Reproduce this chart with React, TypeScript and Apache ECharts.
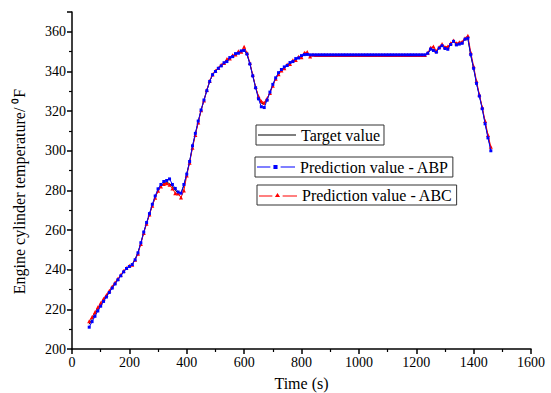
import React, { useEffect, useRef } from "react";
import * as echarts from "echarts";

const times = [
  60, 70, 80, 90, 100, 110, 120, 130, 140, 150, 160, 170, 180, 190, 200, 210, 220, 230, 240, 250,
  260, 270, 280, 290, 300, 310, 320, 330, 340, 350, 360, 370, 380, 390, 400, 410, 420, 430, 440, 450,
  460, 470, 480, 490, 500, 510, 520, 530, 540, 550, 560, 570, 580, 590, 600, 610, 620, 630, 640, 650,
  660, 670, 680, 690, 700, 710, 720, 730, 740, 750, 760, 770, 780, 790, 800, 810, 820, 830, 840, 850,
  860, 870, 880, 890, 900, 910, 920, 930, 940, 950, 960, 970, 980, 990, 1000, 1010, 1020, 1030, 1040, 1050,
  1060, 1070, 1080, 1090, 1100, 1110, 1120, 1130, 1140, 1150, 1160, 1170, 1180, 1190, 1200, 1210, 1220, 1230, 1240, 1250,
  1260, 1270, 1280, 1290, 1300, 1310, 1320, 1330, 1340, 1350, 1360, 1370, 1380, 1390, 1400, 1410, 1420, 1430, 1440, 1450,
  1460,
];

const targetValues = [
  212.5, 215, 217.5, 220, 222.3, 224.5, 226.7, 228.8, 230.9, 233, 235, 237, 239, 240.7, 241.8, 242.8, 245.3, 248.8, 253.5, 258.8,
  263.5, 268, 272.5, 276.5, 280, 282.3, 283.5, 284, 283.5, 282, 280, 278.8, 278.5, 282.5, 288.5, 294.5, 302, 308.5, 314.5, 320.5,
  325.5, 330.5, 335, 338.3, 340.2, 341.6, 343, 344.2, 345.5, 346.8, 347.8, 348.7, 349.5, 350.2, 350.8, 348.5, 344, 338, 332, 327,
  324, 323.5, 326, 329.5, 333.2, 336.5, 339, 340.8, 342, 343.2, 344.2, 345.2, 346.2, 347, 347.7, 348.3, 348.5, 348.3, 348.3, 348.3,
  348.3, 348.3, 348.3, 348.3, 348.3, 348.3, 348.3, 348.3, 348.3, 348.3, 348.3, 348.3, 348.3, 348.3, 348.3, 348.3, 348.3, 348.3, 348.3, 348.3,
  348.3, 348.3, 348.3, 348.3, 348.3, 348.3, 348.3, 348.3, 348.3, 348.3, 348.3, 348.3, 348.3, 348.3, 348.3, 348.3, 348.3, 348.3, 349, 351,
  351.2, 350, 352, 353.2, 352.5, 352, 354, 355, 353.8, 354, 354.5, 356.5, 356.5, 348, 341.5, 334.2, 327.8, 321.5, 314, 307,
  300.8,
];

const abpValues = [
  211, 213.8, 216.5, 219.2, 221.6, 224, 226.2, 228.5, 230.7, 232.8, 234.9, 236.9, 238.9, 240.6, 241.6, 242.6, 245, 248.5, 253.6, 259,
  263.8, 268.3, 273, 277.2, 280.8, 283, 284.5, 285, 285.8, 283, 281, 279.2, 278.6, 283, 288.2, 294.6, 302.5, 308.8, 315, 320.6,
  325.6, 330.3, 335, 338.4, 340, 341.6, 342.8, 344.4, 345, 347, 347.5, 349, 349.2, 350.4, 350.6, 348.8, 343.8, 337.8, 331.8, 326.2,
  322.2, 321.8, 325.5, 329.6, 333.5, 336.8, 339.4, 341, 342.3, 343, 344.5, 345, 346.5, 346.8, 348, 348.5, 348.6, 348.4, 348.4, 348.4,
  348.4, 348.4, 348.4, 348.4, 348.4, 348.4, 348.4, 348.4, 348.4, 348.4, 348.4, 348.4, 348.4, 348.4, 348.4, 348.4, 348.4, 348.4, 348.4, 348.4,
  348.4, 348.4, 348.4, 348.4, 348.4, 348.4, 348.4, 348.4, 348.4, 348.4, 348.4, 348.4, 348.4, 348.4, 348.4, 348.4, 348.4, 348.4, 349.2, 351.3,
  350.6, 349.7, 351.8, 353, 351.6, 351.2, 353.6, 355.2, 353.4, 353.8, 354.2, 356.3, 356.8, 348.5, 341.6, 334, 327.6, 321.2, 313.6, 306.5,
  300,
];

const abcValues = [
  214, 216.2, 218.6, 221, 223.2, 225.3, 227.3, 229.4, 231.5, 233.5, 235.4, 237.3, 239.3, 240.9, 242, 242.5, 245, 248, 253, 258.5,
  263.2, 267.8, 272.3, 276.3, 279.8, 282, 283.2, 283.6, 282.8, 281, 278.6, 278.4, 276.4, 280, 287.5, 294, 301.5, 308, 314.2, 320.4,
  325.3, 330.6, 335.2, 338.5, 340.4, 341.8, 343.4, 344.3, 346.3, 346.6, 348.2, 348.5, 350.2, 350, 352.5, 349.3, 344.3, 338.3, 332.2, 327.5,
  325, 324.2, 326.4, 329.2, 332.8, 336.3, 338.6, 340.5, 341.6, 343.5, 343.8, 345.6, 345.8, 347.4, 347.2, 349.5, 349.8, 347.6, 348.4, 348.3,
  348.3, 348.3, 348.3, 348.3, 348.3, 348.3, 348.3, 348.3, 348.3, 348.3, 348.3, 348.3, 348.3, 348.3, 348.3, 348.3, 348.3, 348.3, 348.3, 348.3,
  348.3, 348.3, 348.3, 348.3, 348.3, 348.3, 348.3, 348.3, 348.3, 348.3, 348.3, 348.3, 348.3, 348.3, 348.3, 348.3, 348.3, 348.3, 349.4, 352,
  352.6, 350.3, 352.4, 353.8, 352.4, 352.6, 354.2, 355.6, 354.2, 354.8, 355, 356.8, 358, 349.6, 342.6, 335.2, 328.4, 322, 315, 308,
  302,
];

const seriesNames = ["Target value", "Prediction value - ABP", "Prediction value - ABC"];
const xTitle = "Time (s)";
const yTitle = "Engine cylinder temperature/ \u2070F";

const FONT = "Times New Roman";

const ICON_LINE = "path://M0,0h38v1H0z";
const ICON_ABP = "path://M1,2h13v1H1z M17,0.5h4v4h-4z M24,2h14v1H24z";
const ICON_ABC = "path://M1,3h13v1H1z M19,0.5L21.5,4.5L16.5,4.5z M24,3h14v1H24z";

function pairs(vals: number[]) {
  return times.map((t, i) => [t, vals[i]]);
}

export default function App() {
  const ref = useRef<HTMLDivElement>(null);
  useEffect(() => {
    if (!ref.current) return;
    const chart = echarts.init(ref.current, null, { renderer: "svg" });
    const legendBase = {
      orient: "horizontal",
      borderColor: "#333",
      borderWidth: 1,
      padding: [2, 4, 2, 2],
      itemWidth: 38,
      itemHeight: 12,
      symbolKeepAspect: true,
      textStyle: { fontFamily: FONT, fontSize: 16, fontWeight: "normal", color: "#000", lineHeight: 16 },
    };
    chart.setOption({
      animation: false,
      backgroundColor: "#fff",
      textStyle: { fontFamily: FONT, fontWeight: "normal" },
      grid: { left: 72, right: 20, top: 12, bottom: 44, containLabel: false, outerBoundsMode: "none" },
      legend: [
        { ...legendBase, data: [{ name: seriesNames[0], icon: ICON_LINE }], left: 256, top: 125 },
        { ...legendBase, data: [{ name: seriesNames[1], icon: ICON_ABP }], left: 255, top: 157 },
        { ...legendBase, data: [{ name: seriesNames[2], icon: ICON_ABC }], left: 257, top: 185 },
      ],
      xAxis: {
        type: "value",
        min: 0,
        max: 1600,
        interval: 200,
        name: xTitle,
        nameLocation: "middle",
        nameGap: 26,
        nameTextStyle: { fontFamily: FONT, fontSize: 16, fontWeight: "normal", color: "#000" },
        axisLine: { show: true, lineStyle: { color: "#000", width: 1.5 } },
        axisTick: { show: true, inside: false, length: 5, lineStyle: { color: "#000", width: 1.5 } },
        minorTick: { show: true, splitNumber: 2, length: 3, lineStyle: { color: "#000", width: 1.2 } },
        axisLabel: {
          fontFamily: FONT,
          fontSize: 14,
          fontWeight: "normal",
          color: "#000",
          margin: 6,
          formatter: (v: number) => String(v),
        },
        splitLine: { show: false },
      },
      yAxis: {
        type: "value",
        min: 200,
        max: 370,
        interval: 20,
        name: yTitle,
        nameLocation: "middle",
        nameGap: 45,
        nameRotate: 90,
        nameTextStyle: { fontFamily: FONT, fontSize: 16, fontWeight: "normal", color: "#000", padding: [0, 22, 0, 0] },
        axisLine: { show: true, lineStyle: { color: "#000", width: 1.5 } },
        axisTick: { show: true, inside: false, length: 5, lineStyle: { color: "#000", width: 1.5 } },
        minorTick: { show: true, splitNumber: 2, length: 3, lineStyle: { color: "#000", width: 1.2 } },
        axisLabel: {
          fontFamily: FONT,
          fontSize: 14,
          fontWeight: "normal",
          color: "#000",
          margin: 6,
          formatter: (v: number) => (v % 20 === 0 ? String(v) : ""),
        },
        splitLine: { show: false },
      },
      series: [
        {
          name: seriesNames[0],
          type: "line",
          data: pairs(targetValues),
          symbol: "none",
          lineStyle: { color: "#000", width: 1 },
          itemStyle: { color: "#000" },
          z: 2,
        },
        {
          name: seriesNames[2],
          type: "line",
          data: pairs(abcValues),
          symbol: "triangle",
          symbolSize: 4,
          showSymbol: true,
          showAllSymbol: true,
          lineStyle: { color: "#ff0000", width: 1 },
          itemStyle: { color: "#ff0000" },
          z: 3,
        },
        {
          name: seriesNames[1],
          type: "line",
          data: pairs(abpValues),
          symbol: "rect",
          symbolSize: 3,
          showSymbol: true,
          showAllSymbol: true,
          lineStyle: { color: "#0000ff", width: 1 },
          itemStyle: { color: "#0000ff" },
          z: 4,
        },
      ],
    });
    return () => chart.dispose();
  }, []);
  return (
    <div
      ref={ref}
      style={{ position: "fixed", left: 0, top: 0, width: 551, height: 393 }}
    />
  );
}
